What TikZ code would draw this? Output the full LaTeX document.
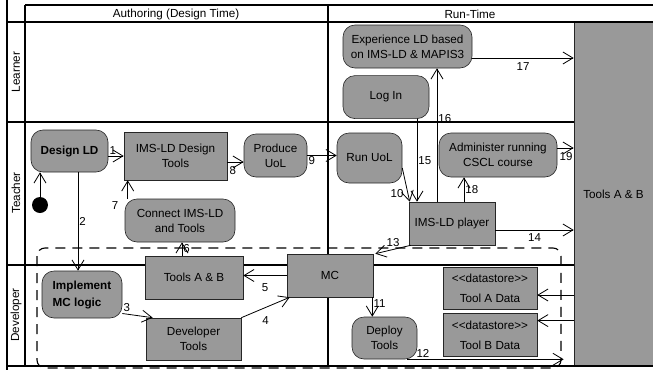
\documentclass[tikz,border=0pt]{standalone}
\usepackage{fontspec}
\setmainfont{Liberation Sans}
\usetikzlibrary{arrows.meta, positioning}

\begin{document}
\begin{tikzpicture}[
                x=1pt, y=-1pt,
                lane/.style={line width=1.6pt, draw=black},
                box/.style={draw=black!85, line width=0.6pt, fill=black!40, rectangle, align=center, inner sep=2pt, font=\fontsize{11.7}{15}\selectfont},
                rbox/.style={box, rounded corners=12pt},
                arrow/.style={-{Straight Barb[length=10pt, width=12pt]}, line width=0.8pt, draw=black},
                lbl/.style={font=\fontsize{11.5}{13}\selectfont, inner sep=1pt},
                hdr/.style={font=\fontsize{11.7}{14}\selectfont, inner sep=0pt}
            ]

\useasboundingbox (0,0) rectangle (653,370);

\node[box, minimum width=79pt, minimum height=344pt] (tools) at (613.5,194) {Tools A \& B};

\draw[lane] (7,0) -- (7,370);
            \draw[lane] (25,5) -- (25,366);
            \draw[lane] (25,5) -- (653,5);
            \draw[lane] (7,22) -- (653,22);
            \draw[lane] (7,122) -- (574,122);
            \draw[lane] (7,265) -- (574,265);
            \draw[lane] (7,366) -- (653,366);
            \draw[lane] (328,5) -- (328,366);

\node[hdr] (authoring) at (176,14) {Authoring (Design Time)};
            \node[hdr] (runtime) at (470,14) {Run-Time};
            \node[hdr, rotate=90] (learner) at (16,72) {Learner};
            \node[hdr, rotate=90] (teacher) at (16,193) {Teacher};
            \node[hdr, rotate=90] (developer) at (16,315) {Developer};

\draw[line width=1.1pt, dash pattern=on 10pt off 7pt, rounded corners=8pt] (37,248) rectangle (561,368);

\node[rbox, minimum width=77pt, minimum height=42pt] (dld) at (69.5,151) {\textbf{Design LD}};
            \node[circle, fill=black, minimum size=16pt, inner sep=0pt] (start) at (40,205) {};
            \node[box, minimum width=103pt, minimum height=48pt] (imsdt) at (175.5,156) {IMS-LD Design\\Tools};
            \node[rbox, minimum width=63pt, minimum height=43pt] (puol) at (275.5,155.5) {Produce\\UoL};
            \node[rbox, minimum width=110pt, minimum height=43pt] (conn) at (180,220.5) {Connect IMS-LD\\and Tools};
            \node[rbox, minimum width=65pt, minimum height=50pt] (runuol) at (369.5,158) {Run UoL};
            \node[rbox, minimum width=118pt, minimum height=44pt] (admin) at (498,155) {Administer running\\CSCL course};
            \node[box, minimum width=86pt, minimum height=43pt] (player) at (452,223.5) {IMS-LD player};
            \node[rbox, minimum width=129pt, minimum height=43pt] (exp) at (407.5,46.5) {Experience LD based\\on IMS-LD \& MAPIS3};
            \node[rbox, minimum width=86pt, minimum height=43pt, below=7pt of exp.south west, anchor=north west] (login) {Log In};
            \node[box, minimum width=86pt, minimum height=43pt] (mc) at (330,275.5) {MC};
            \node[box, minimum width=98pt, minimum height=43pt] (tab) at (194,277.5) {Tools A \& B};
            \node[rbox, minimum width=80pt, minimum height=47pt, align=left] (impl) at (82,294.5) {\textbf{Implement}\\[2pt]\textbf{MC logic}};
            \node[box, minimum width=95pt, minimum height=42pt] (devt) at (193.5,339) {Developer\\Tools};
            \node[rbox, minimum width=65pt, minimum height=42pt] (deploy) at (384.5,338) {Deploy\\Tools};
            \node[box, minimum width=94pt, minimum height=42pt] (tadata) at (490,288) {<{}<datastore>{}>\\[5pt]Tool A Data};
            \node[box, minimum width=94pt, minimum height=43pt, below=4pt of tadata] (tbdata) {<{}<datastore>{}>\\[5pt]Tool B Data};

\draw[arrow] (start) -- (start |- dld.south);
            \draw[arrow] (dld.east |- imsdt.west) -- (imsdt.west) node[lbl, at start, above right] {1};
            \draw[arrow] ([xshift=8.5pt]dld.south) -- ([xshift=8.5pt]dld.south |- impl.north) node[lbl, midway, right] {2};
            \draw[arrow] ([yshift=-19pt]impl.east) -- ([xshift=7pt]devt.north west) node[lbl, at start, above right] {3};
            \draw[arrow] (devt.north east) -- ([xshift=3pt]mc.south west) node[lbl, midway, below=8pt] {4};
            \draw[arrow] (mc.west) -- (mc.west -| tab.east) node[lbl, midway, below=7pt] {5};
            \draw[arrow] ([xshift=-12pt]tab.north) -- ([xshift=-12pt]tab.north |- conn.south) node[lbl, midway, right] {6};
            \draw[arrow] ([xshift=3pt]conn.north west) -- ([xshift=3pt]conn.north west |- imsdt.south) node[lbl, at start, below left=1pt and 8pt] {7};
            \draw[arrow] ([yshift=-6pt]imsdt.east) -- ([yshift=-6pt]imsdt.east -| puol.west) node[lbl, at start, below right=3pt and 1pt] {8};
            \draw[arrow] (puol.east) -- (puol.east -| runuol.west) node[lbl, at start, below right] {9};
            \draw[arrow] ([yshift=-10pt]runuol.east) -- ([xshift=1pt]player.north west) node[lbl, near end, left=3pt] {10};
            \draw[arrow] ([xshift=-1pt]mc.south east) -- ([xshift=-1pt]mc.south east |- deploy.north) node[lbl, pos=0.3, right] {11};
            \draw[arrow] ([xshift=-10pt]deploy.south east) -- ([xshift=-10pt]deploy.south east -| tools.west) node[lbl, pos=0.05, above right] {12};
            \draw[arrow] ([xshift=2pt]player.south west) -- ([xshift=2pt]mc.north east) node[lbl, midway, above=1pt] {13};
            \draw[arrow] ([yshift=-6.5pt]player.east) -- ([yshift=-6.5pt]player.east -| tools.west) node[lbl, midway, below=2pt] {14};
            \draw[arrow] ([xshift=31pt]login.south) -- ([xshift=31pt]login.south |- player.north) node[lbl, midway, right] {15};
            \draw[arrow] ([xshift=-15pt]player.north) -- ([xshift=-15pt]player.north |- exp.south) node[lbl, pos=0.62, right] {16};
            \draw[arrow] ([yshift=-11.5pt]exp.east) -- ([yshift=-11.5pt]exp.east -| tools.west) node[lbl, midway, below=3pt] {17};
            \draw[arrow] ([xshift=12pt]player.north) -- ([xshift=12pt]player.north |- admin.south) node[lbl, midway, right] {18};
            \draw[arrow] ([yshift=7pt]admin.east) -- ([yshift=7pt]admin.east -| tools.west) node[lbl, at start, below right=3pt and 1pt] {19};
            \draw[arrow] ([yshift=-7pt]tadata.east -| tools.west) -- ([yshift=-7pt]tadata.east);
            \draw[arrow] ([yshift=14.5pt]tbdata.east -| tools.west) -- ([yshift=14.5pt]tbdata.east);

            \end{tikzpicture}
\end{document}
